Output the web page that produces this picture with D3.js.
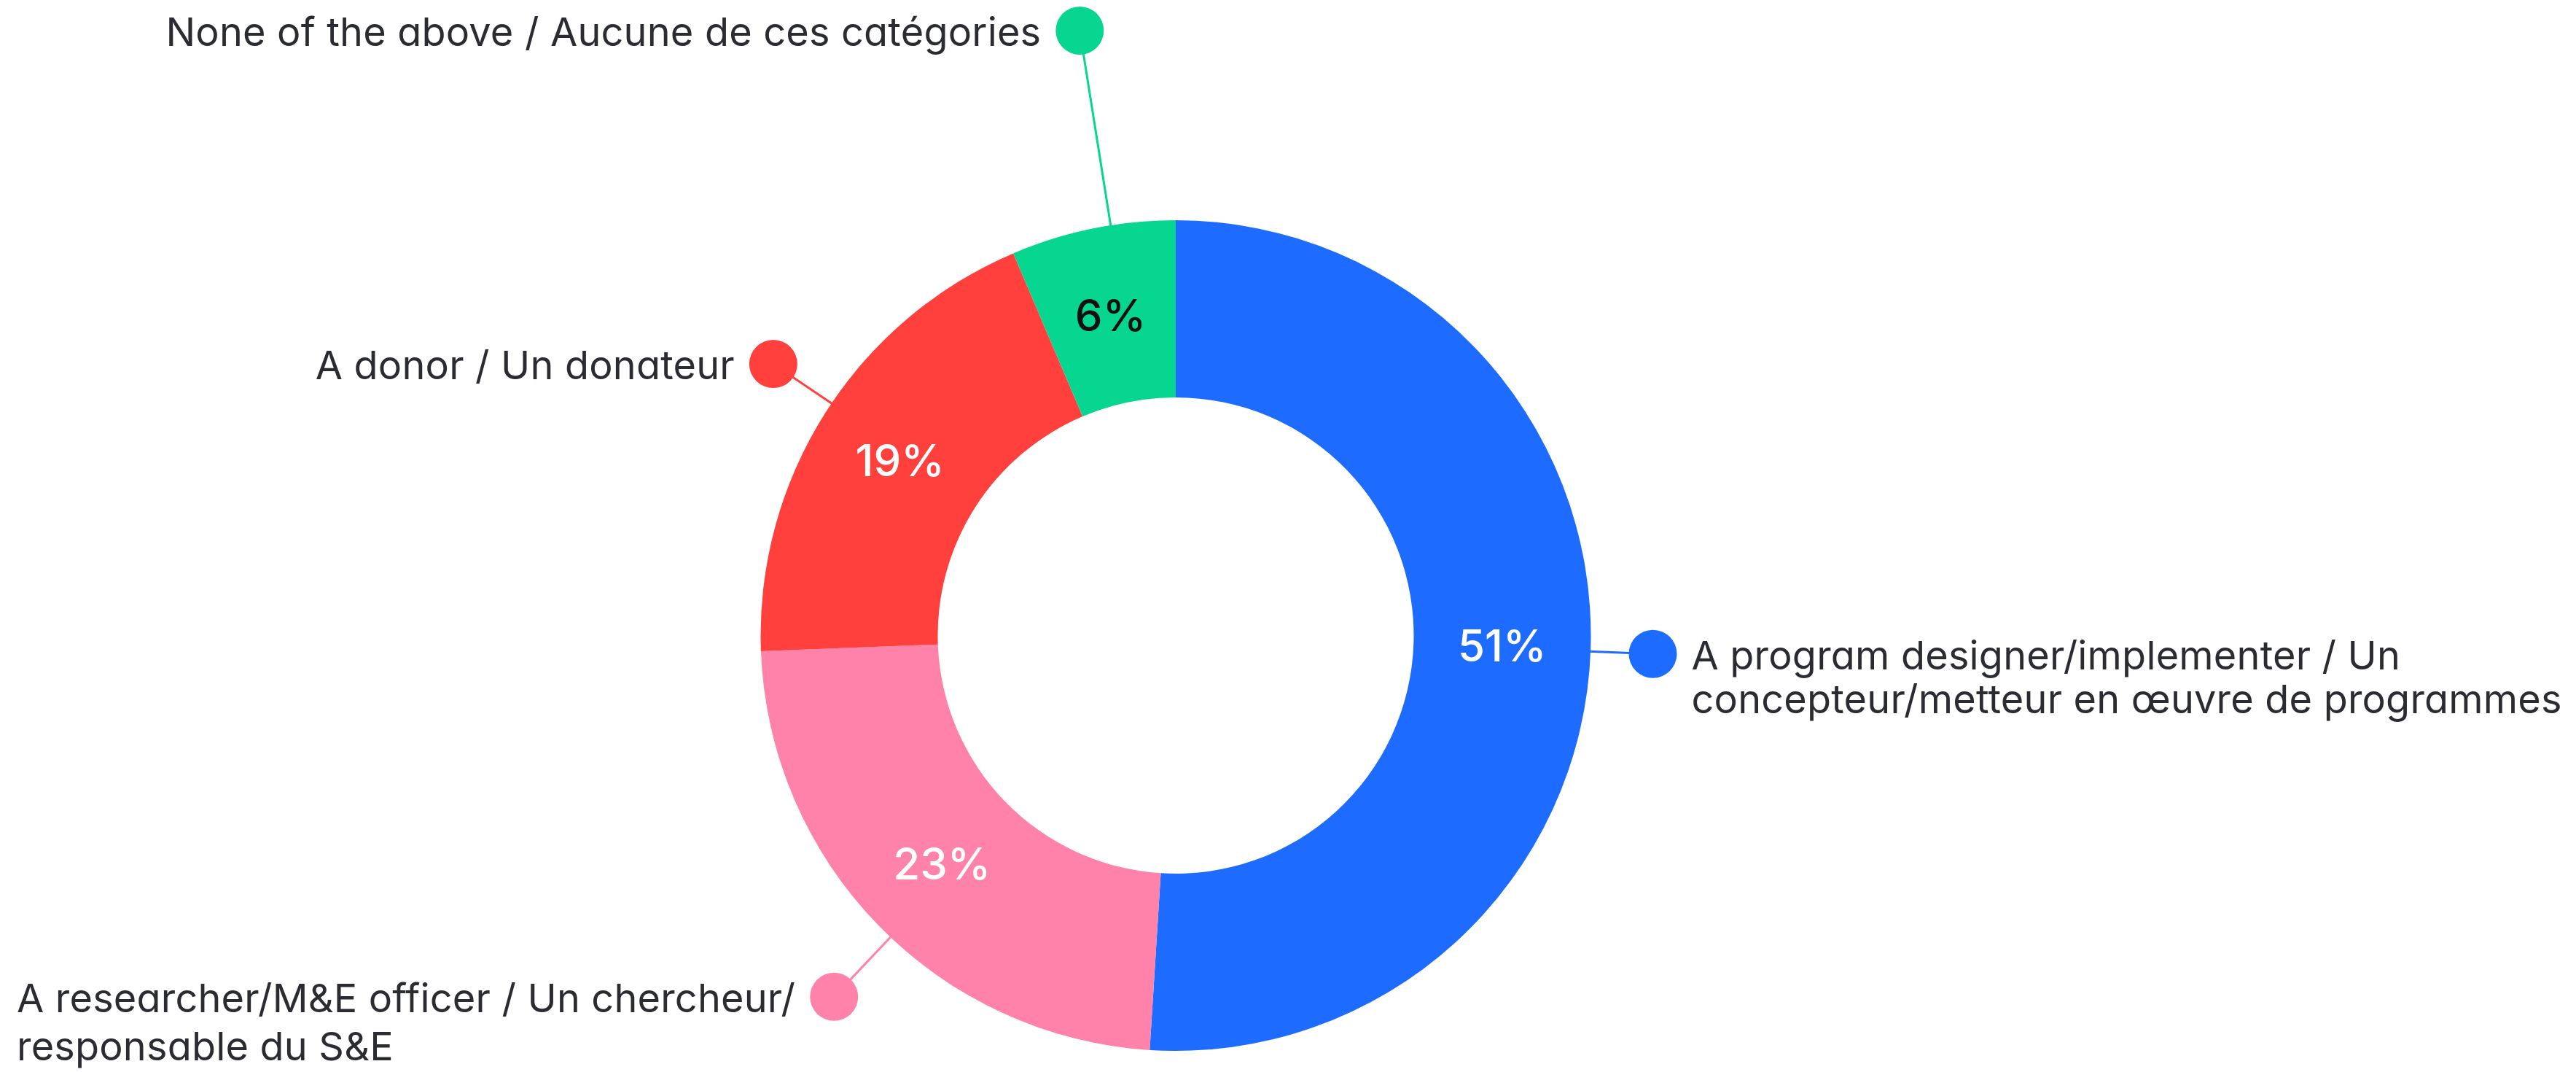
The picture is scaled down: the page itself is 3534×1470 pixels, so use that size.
<!DOCTYPE html>
<html><head><meta charset="utf-8">
<script src="https://cdn.jsdelivr.net/npm/d3@7"></script>
<style>
html,body{margin:0;padding:0;background:#fff;}
svg{display:block}
text{font-family:Inter,"Noto Sans",sans-serif;font-feature-settings:"cv11";}
</style>
</head><body>
<script>
// ---- data ----
const categories = [
  "A program designer/implementer / Un\nconcepteur/metteur en œuvre de programmes",
  "A researcher/M&E officer / Un chercheur/\nresponsable du S&E",
  "A donor / Un donateur",
  "None of the above / Aucune de ces catégories"
];
const values = [51.0, 23.4, 19.2, 6.4];
const colors = ["#1E6CFF", "#FF82AA", "#FF403D", "#06D690"];
const valueTextColors = ["#ffffff", "#ffffff", "#ffffff", "#111111"];

// ---- layout ----
const W = 3534, H = 1470;
const cx = 1613, cy = 871.5, rOuter = 569.5, rInner = 326.5;
const leaderDist = [655, 682, 666, 840];
const leaderNudgeDeg = [0.4, -2.3, 1.6, 2.5];
const lineHeights = [60, 66, 60, 60];
const dotR = 33, gap = 20, labelSize = 54, valueSize = 60;

const svg = d3.select("body").append("svg").attr("width", W).attr("height", H);
svg.append("rect").attr("width", W).attr("height", H).attr("fill", "#fff");
const g = svg.append("g").attr("transform", `translate(${cx},${cy})`);

const pie = d3.pie().sort(null).value(d => d).startAngle(0).endAngle(2 * Math.PI);
const arcs = pie(values);
const arc = d3.arc().innerRadius(rInner).outerRadius(rOuter);
const fmt = d => d3.format(".0f")(d) + "%";

g.selectAll("path.slice").data(arcs).join("path")
  .attr("class", "slice")
  .attr("d", arc)
  .attr("fill", (d, i) => colors[i]);

g.selectAll("text.val").data(arcs).join("text")
  .attr("class", "val")
  .attr("transform", d => `translate(${arc.centroid(d)})`)
  .attr("text-anchor", "middle")
  .attr("dy", "0.36em")
  .attr("font-size", valueSize)
  .attr("font-weight", 500)
  .attr("fill", (d, i) => valueTextColors[i])
  .text((d, i) => fmt(values[i]));

const pt = (a, r) => [r * Math.sin(a), -r * Math.cos(a)];

arcs.forEach((d, i) => {
  const mid = (d.startAngle + d.endAngle) / 2 + leaderNudgeDeg[i] * Math.PI / 180;
  const [dx, dy] = pt(mid, leaderDist[i]);
  const [sx, sy] = pt(mid, rOuter - 2);
  const right = Math.sin(mid) > 0;
  g.append("line")
    .attr("x1", sx).attr("y1", sy).attr("x2", dx).attr("y2", dy)
    .attr("stroke", colors[i]).attr("stroke-width", 3);
  g.append("circle").attr("cx", dx).attr("cy", dy).attr("r", dotR).attr("fill", colors[i]);

  const lines = categories[i].split("\n");
  const text = g.append("text")
    .attr("class", "cat")
    .attr("y", dy + 21)
    .attr("font-size", labelSize)
    .attr("fill", "#2A2C32")
    .attr("letter-spacing", "0.2px");
  const spans = lines.map((ln, k) => text.append("tspan")
    .attr("dy", k === 0 ? 0 : lineHeights[i])
    .text(ln));
  if (right) {
    spans.forEach(s => s.attr("x", dx + dotR + gap));
  } else {
    const maxW = d3.max(spans, s => s.node().getComputedTextLength());
    spans.forEach(s => s.attr("x", dx - dotR - gap - maxW));
  }
});
</script>
</body></html>
